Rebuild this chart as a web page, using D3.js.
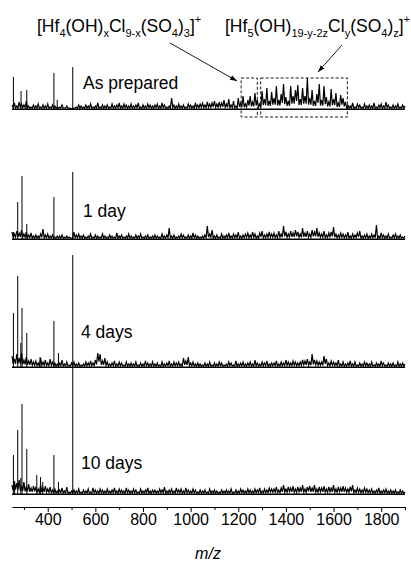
<!DOCTYPE html>
<html>
<head>
<meta charset="utf-8">
<style> body { margin: 0; background: #fff; } text { font-family: "Liberation Sans", Arial, sans-serif; } </style>
<script src="https://d3js.org/d3.v7.min.js"></script>
</head>
<body>
<div id="chart"></div>
<script>
// m/z sampled every 10 from 250 to 1900 (166 points), background intensity
const mzStart = 250;
const mzStep = 10;

const asPrepNoise = [
  5,7,4,8,6,5,9,4,3,5, 4,6,3,5,4,6,3,5,4,3, 3,5,2,4,2,1,2,3,5,4, 3,5,4,6,3,4,7,3,5,4,
  5,3,6,4,5,7,4,6,5,4, 6,4,5,7,3,5,4,6,5,4, 5,6,4,7,5,3,4,12,5,4, 6,4,5,3,6,5,4,7,5,6,
  7,5,8,6,7,9,6,8,7,10, 6,11,5,9,4,12,7,14,6,10, 14,8,17,10,6,19,11,22,9,18,
  12,24,10,16,26,13,9,24,14,20, 25,11,22,14,32,12,20,9,16,26, 10,24,13,8,21,11,17,7,15,12,
  8,5,4,7,3,6,5,3,6,4, 5,4,7,3,5,6,4,8,5,3, 5,4,6,3,5,4
];
const day1Noise = [
  8,6,9,7,10,6,8,5,7,4, 5,4,6,11,5,6,4,5,3,4, 4,5,3,4,3,2,8,5,6,4, 5,3,4,6,3,5,4,3,6,4,
  3,5,4,3,7,4,5,3,4,6, 4,3,5,4,6,3,4,5,3,4, 5,4,3,6,4,5,12,4,5,3, 4,6,5,3,5,4,7,5,4,3,
  4,5,14,6,10,4,5,3,6,4, 5,7,4,6,5,8,4,5,6,7, 5,8,6,4,7,9,5,6,8,6,
  7,5,9,6,14,8,6,9,7,10, 8,6,12,7,9,6,10,8,12,7, 6,9,5,7,8,13,6,5,7,6,
  5,8,4,6,5,7,9,4,5,6, 4,6,5,15,4,7,5,4,6,3, 5,6,4,5,3,4
];
const day4Noise = [
  12,9,14,10,15,8,11,7,9,6, 7,5,10,6,8,5,9,6,5,4, 5,8,4,6,3,5,6,4,5,3, 4,6,5,7,5,8,15,14,7,10,
  6,4,5,7,4,6,5,3,6,4, 5,4,6,3,5,4,7,5,4,6, 4,5,3,6,4,5,7,4,6,5, 6,4,10,7,11,5,6,4,5,4,
  3,5,4,6,3,5,4,6,5,3, 4,6,5,3,7,4,5,6,4,5, 6,4,8,5,4,6,5,7,4,5,
  5,7,4,6,5,8,6,5,7,6, 5,6,8,7,9,6,14,8,7,6, 6,12,9,5,7,6,5,8,4,6,
  4,5,7,4,6,3,5,4,6,5, 4,6,3,5,4,7,5,3,5,4, 5,3,6,4,5,4
];
const day10Noise = [
  10,14,12,15,9,13,8,11,7,9, 8,6,10,7,9,6,8,5,6,4, 5,7,4,8,3,4,5,4,6,3, 5,4,6,3,7,5,4,6,5,4,
  6,4,5,7,4,6,5,4,7,5, 4,6,5,3,6,4,5,7,4,5, 5,4,6,5,8,4,5,6,4,7, 5,6,4,7,5,4,6,5,3,5,
  4,5,3,6,4,5,4,3,5,4, 5,4,6,3,5,4,6,5,4,6, 5,4,6,5,7,4,6,5,7,6,
  6,8,5,7,10,6,8,7,9,6, 8,7,10,6,8,9,7,10,6,8, 7,9,6,8,7,10,6,8,7,9,
  7,6,8,10,5,7,6,5,7,6, 5,6,4,5,7,4,5,6,4,5, 4,5,3,5,4,3
];

// sharp peaks
const asPrepPeakMz  = [256, 288, 312, 426, 440, 505];
const asPrepPeakInt = [33, 19, 20, 37, 10, 43];
const day1PeakMz  = [256, 274, 292, 312, 426, 505];
const day1PeakInt = [8, 38, 64, 16, 43, 68];
const day4PeakMz  = [256, 274, 287, 292, 312, 368, 426, 445, 505];
const day4PeakInt = [55, 92, 25, 60, 35, 11, 47, 15, 113];
const day10PeakMz  = [256, 261, 274, 287, 292, 312, 354, 370, 379, 426, 445, 505];
const day10PeakInt = [40, 10, 65, 17, 91, 46, 20, 18, 13, 40, 13, 127];

const sampleLabels = ["As prepared", "1 day", "4 days", "10 days"];
const majorTicks = [400, 600, 800, 1000, 1200, 1400, 1600, 1800];
const minorTicks = [300, 500, 700, 900, 1100, 1300, 1500, 1700, 1900];
const boxRanges = [[1212, 1280], [1294, 1658]];

const width = 411, height = 562;
const svg = d3.select("#chart").append("svg")
    .attr("width", width).attr("height", height);

const x = d3.scaleLinear().domain([250, 1900]).range([12, 405]);

const spectra = [
  { noise: asPrepNoise, mz: asPrepPeakMz, int: asPrepPeakInt, base: 110, ly: 89 },
  { noise: day1Noise, mz: day1PeakMz, int: day1PeakInt, base: 240, ly: 217 },
  { noise: day4Noise, mz: day4PeakMz, int: day4PeakInt, base: 368, ly: 338 },
  { noise: day10Noise, mz: day10PeakMz, int: day10PeakInt, base: 495, ly: 469 }
];

spectra.forEach((s, i) => {
  const y = d3.scaleLinear().domain([0, 100]).range([s.base, s.base - 100]);
  s.y = y;
  // each sample drawn as a spike; the trough between two samples sits
  // a little above the baseline so the foot of the trace stays dark
  const pts = [];
  s.noise.forEach((v, j) => {
    const m = mzStart + j * mzStep;
    pts.push([m, v]);
    if (j < s.noise.length - 1) {
      const w = s.noise[j + 1];
      pts.push([m + mzStep / 2, Math.max(1.8, 0.45 * Math.min(v, w))]);
    }
  });
  const line = d3.line().x(d => x(d[0])).y(d => y(d[1]));
  svg.append("path")
      .attr("d", line(pts))
      .attr("fill", "none")
      .attr("stroke", "#000")
      .attr("stroke-width", 1.2);
  // dark foot of the trace
  svg.append("line")
      .attr("x1", x(mzStart)).attr("x2", x(mzStart + (s.noise.length - 1) * mzStep))
      .attr("y1", y(0.8)).attr("y2", y(0.8))
      .attr("stroke", "#000").attr("stroke-width", 1.6);

  svg.append("g").selectAll("line")
    .data(s.mz.map((m, k) => [m, s.int[k]]))
    .join("line")
      .attr("x1", d => x(d[0])).attr("x2", d => x(d[0]))
      .attr("y1", y(0)).attr("y2", d => y(d[1]))
      .attr("stroke", "#000")
      .attr("stroke-width", 1);

  svg.append("text")
      .attr("x", i < 2 ? 83 : 81)
      .attr("y", s.ly)
      .attr("font-size", 17.5)
      .text(sampleLabels[i]);
});

// dashed boxes on the as-prepared spectrum
const y0 = spectra[0].y;
svg.append("g").selectAll("rect")
  .data(boxRanges)
  .join("rect")
    .attr("x", d => x(d[0]))
    .attr("width", d => x(d[1]) - x(d[0]))
    .attr("y", y0(32))
    .attr("height", y0(-7) - y0(32))
    .attr("fill", "none")
    .attr("stroke", "#000")
    .attr("stroke-width", 0.9)
    .attr("stroke-dasharray", "3,2");

// formula labels
function formula(xPos, parts) {
  const t = svg.append("text").attr("x", xPos).attr("y", 32).attr("font-size", 17.5);
  let shift = 0;
  parts.forEach(p => {
    const want = p[1] === "sub" ? 5 : p[1] === "sup" ? -9 : 0;
    t.append("tspan")
      .attr("dy", want - shift)
      .attr("font-size", p[1] ? 11 : 17.5)
      .text(p[0]);
    shift = want;
  });
}
formula(37, [["[Hf"], ["4", "sub"], ["(OH)"], ["x", "sub"], ["Cl"], ["9-x", "sub"],
             ["(SO"], ["4", "sub"], [")"], ["3", "sub"], ["]"], ["+", "sup"]]);
formula(225, [["[Hf"], ["5", "sub"], ["(OH)"], ["19-y-2z", "sub"], ["Cl"], ["y", "sub"],
              ["(SO"], ["4", "sub"], [")"], ["z", "sub"], ["]"], ["+", "sup"]]);

svg.append("defs").append("marker")
    .attr("id", "arr").attr("viewBox", "0 0 10 10")
    .attr("refX", 10).attr("refY", 5)
    .attr("markerWidth", 7).attr("markerHeight", 7)
    .attr("markerUnits", "userSpaceOnUse")
    .attr("orient", "auto")
  .append("path").attr("d", "M0,1.5L10,5L0,8.5Z").attr("fill", "#000");

[[170, 43, 237, 81], [342, 45, 318, 72]].forEach(a => {
  svg.append("line")
      .attr("x1", a[0]).attr("y1", a[1]).attr("x2", a[2]).attr("y2", a[3])
      .attr("stroke", "#000").attr("stroke-width", 0.9)
      .attr("marker-end", "url(#arr)");
});

// x axis
const axisY = 507;
const gMaj = svg.append("g").attr("transform", `translate(0,${axisY})`)
    .call(d3.axisBottom(x).tickValues(majorTicks).tickSize(5).tickSizeOuter(0).tickPadding(2)
      .tickFormat(d3.format("d")));
gMaj.selectAll("text").attr("font-size", 16).attr("font-family", "Liberation Sans, Arial, sans-serif").attr("fill", "#000");
gMaj.select(".domain").attr("stroke", "#000");
const gMin = svg.append("g").attr("transform", `translate(0,${axisY})`)
    .call(d3.axisBottom(x).tickValues(minorTicks).tickSize(3).tickSizeOuter(0).tickFormat(""));
gMin.select(".domain").remove();
svg.selectAll(".tick line").attr("stroke", "#000");

svg.append("text")
    .attr("x", 208).attr("y", 559)
    .attr("text-anchor", "middle")
    .attr("font-size", 16)
    .attr("font-style", "italic")
    .text("m/z");
</script>
</body>
</html>
